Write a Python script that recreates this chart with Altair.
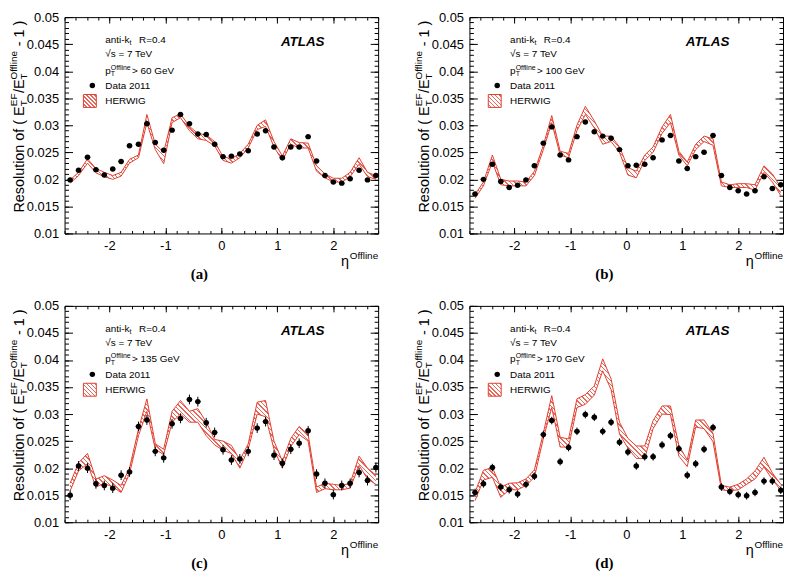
# ATLAS EF jet resolution vs eta, four pT cuts


import pandas as pd
import altair as alt


# bin centres in eta, same for every panel
eta = [-2.70, -2.55, -2.39, -2.24, -2.09, -1.94, -1.79, -1.64, -1.48, -1.33,
       -1.18, -1.03, -0.88, -0.73, -0.57, -0.42, -0.27, -0.12, 0.03, 0.18,
       0.33, 0.48, 0.64, 0.79, 0.94, 1.09, 1.24, 1.39, 1.55, 1.70,
       1.85, 2.00, 2.15, 2.30, 2.46, 2.61, 2.76]

# (a) pT > 60 GeV
a_data = [0.0199, 0.0217, 0.0241, 0.0218, 0.0208, 0.0219, 0.0233, 0.0262, 0.0265, 0.0303,
          0.0268, 0.0254, 0.0291, 0.0320, 0.0303, 0.0284, 0.0283, 0.0265, 0.0242, 0.0243,
          0.0247, 0.0253, 0.0284, 0.0290, 0.0260, 0.0240, 0.0260, 0.0260, 0.0279, 0.0234,
          0.0207, 0.0195, 0.0193, 0.0201, 0.0217, 0.0199, 0.0207]
a_mc_lo = [0.0193, 0.0207, 0.0230, 0.0212, 0.0205, 0.0200, 0.0206, 0.0230, 0.0240, 0.0305,
           0.0255, 0.0229, 0.0305, 0.0314, 0.0290, 0.0275, 0.0272, 0.0262, 0.0235, 0.0230,
           0.0240, 0.0258, 0.0292, 0.0298, 0.0260, 0.0235, 0.0265, 0.0258, 0.0258, 0.0215,
           0.0203, 0.0195, 0.0195, 0.0205, 0.0228, 0.0205, 0.0200]
a_mc_hi = [0.0199, 0.0213, 0.0238, 0.0220, 0.0213, 0.0207, 0.0213, 0.0237, 0.0245, 0.0320,
           0.0265, 0.0250, 0.0314, 0.0321, 0.0298, 0.0285, 0.0282, 0.0270, 0.0242, 0.0238,
           0.0248, 0.0265, 0.0300, 0.0310, 0.0270, 0.0243, 0.0275, 0.0268, 0.0267, 0.0225,
           0.0210, 0.0202, 0.0202, 0.0213, 0.0240, 0.0213, 0.0207]

# (b) pT > 100 GeV
b_data = [0.0173, 0.0200, 0.0228, 0.0196, 0.0185, 0.0189, 0.0199, 0.0225, 0.0267, 0.0297,
          0.0245, 0.0236, 0.0279, 0.0306, 0.0288, 0.0280, 0.0276, 0.0255, 0.0225, 0.0226,
          0.0228, 0.0240, 0.0273, 0.0281, 0.0234, 0.0220, 0.0242, 0.0250, 0.0281, 0.0207,
          0.0185, 0.0179, 0.0173, 0.0179, 0.0205, 0.0183, 0.0190]
b_mc_lo = [0.0165, 0.0188, 0.0232, 0.0190, 0.0188, 0.0188, 0.0188, 0.0207, 0.0255, 0.0305,
           0.0245, 0.0240, 0.0290, 0.0320, 0.0295, 0.0265, 0.0270, 0.0250, 0.0208, 0.0203,
           0.0235, 0.0250, 0.0285, 0.0305, 0.0245, 0.0225, 0.0255, 0.0270, 0.0263, 0.0188,
           0.0185, 0.0185, 0.0185, 0.0180, 0.0213, 0.0195, 0.0170]
b_mc_hi = [0.0172, 0.0195, 0.0245, 0.0200, 0.0197, 0.0197, 0.0195, 0.0215, 0.0263, 0.0318,
           0.0252, 0.0248, 0.0300, 0.0335, 0.0308, 0.0280, 0.0280, 0.0260, 0.0222, 0.0215,
           0.0245, 0.0260, 0.0297, 0.0320, 0.0252, 0.0232, 0.0265, 0.0280, 0.0275, 0.0195,
           0.0190, 0.0192, 0.0192, 0.0190, 0.0225, 0.0210, 0.0185]

# (c) pT > 135 GeV
c_data = [0.0150, 0.0204, 0.0200, 0.0171, 0.0168, 0.0163, 0.0187, 0.0193, 0.0277, 0.0289,
          0.0231, 0.0219, 0.0282, 0.0292, 0.0327, 0.0323, 0.0284, 0.0266, 0.0234, 0.0215,
          0.0217, 0.0231, 0.0274, 0.0286, 0.0224, 0.0209, 0.0235, 0.0246, 0.0269, 0.0189,
          0.0172, 0.0151, 0.0168, 0.0172, 0.0192, 0.0177, 0.0201]
c_mc_lo = [0.0158, 0.0195, 0.0208, 0.0165, 0.0172, 0.0165, 0.0155, 0.0190, 0.0260, 0.0305,
           0.0235, 0.0225, 0.0285, 0.0300, 0.0285, 0.0285, 0.0260, 0.0243, 0.0233, 0.0227,
           0.0200, 0.0235, 0.0300, 0.0295, 0.0235, 0.0200, 0.0240, 0.0262, 0.0250, 0.0155,
           0.0162, 0.0160, 0.0160, 0.0163, 0.0205, 0.0180, 0.0170]
c_mc_hi = [0.0172, 0.0210, 0.0227, 0.0180, 0.0186, 0.0178, 0.0168, 0.0200, 0.0272, 0.0328,
           0.0245, 0.0235, 0.0305, 0.0325, 0.0305, 0.0310, 0.0285, 0.0253, 0.0250, 0.0242,
           0.0215, 0.0245, 0.0322, 0.0325, 0.0250, 0.0213, 0.0255, 0.0277, 0.0262, 0.0165,
           0.0172, 0.0170, 0.0168, 0.0172, 0.0222, 0.0200, 0.0187]

# (d) pT > 170 GeV
d_data = [0.0155, 0.0171, 0.0201, 0.0165, 0.0160, 0.0152, 0.0170, 0.0185, 0.0262, 0.0288,
          0.0212, 0.0238, 0.0268, 0.0299, 0.0294, 0.0268, 0.0285, 0.0248, 0.0230, 0.0204,
          0.0221, 0.0221, 0.0243, 0.0260, 0.0236, 0.0187, 0.0208, 0.0235, 0.0275, 0.0165,
          0.0157, 0.0151, 0.0149, 0.0155, 0.0176, 0.0176, 0.0159]
d_mc_lo = [0.0140, 0.0178, 0.0183, 0.0146, 0.0160, 0.0160, 0.0168, 0.0183, 0.0255, 0.0312,
           0.0239, 0.0239, 0.0312, 0.0318, 0.0335, 0.0380, 0.0345, 0.0263, 0.0237, 0.0218,
           0.0218, 0.0273, 0.0300, 0.0299, 0.0222, 0.0203, 0.0276, 0.0273, 0.0249, 0.0160,
           0.0158, 0.0160, 0.0170, 0.0180, 0.0202, 0.0179, 0.0159]
d_mc_hi = [0.0155, 0.0196, 0.0201, 0.0165, 0.0172, 0.0173, 0.0180, 0.0197, 0.0265, 0.0334,
           0.0257, 0.0254, 0.0328, 0.0336, 0.0352, 0.0402, 0.0365, 0.0285, 0.0255, 0.0241,
           0.0241, 0.0288, 0.0315, 0.0315, 0.0242, 0.0215, 0.0289, 0.0289, 0.0264, 0.0168,
           0.0165, 0.0170, 0.0180, 0.0195, 0.0220, 0.0191, 0.0170]

# tag, pT cut, data, band low, band high, stat error
panels = [
    ("(a)", "60", a_data, a_mc_lo, a_mc_hi, 0.0003),
    ("(b)", "100", b_data, b_mc_lo, b_mc_hi, 0.0003),
    ("(c)", "135", c_data, c_mc_lo, c_mc_hi, 0.0009),
    ("(d)", "170", d_data, d_mc_lo, d_mc_hi, 0.0007),
]

x_major = [-2, -1, 0, 1, 2]
x_minor = [round(-2.8 + 0.2 * i, 1) for i in range(29)]
y_major = [round(0.01 + 0.005 * i, 3) for i in range(9)]
y_minor = [round(0.01 + 0.001 * i, 3) for i in range(41)]

W, H = 316, 218
FONT = "Liberation Sans"
RED = "#e0402f"
HATCH = "#e8675a"
ONE = pd.DataFrame({"k": [0]})

xs = alt.Scale(domain=[-2.8, 2.8], nice=False, zero=False)
ys = alt.Scale(domain=[0.01, 0.05], nice=False, zero=False)


# diagonal hatching made from a hard-stop linear gradient
def hatch(w, h, period):
    k = 0.7 * h / w
    n = max(3, int(1.4 * w * (1 + (h / w) ** 2) / period))
    stops = []
    for i in range(n):
        stops += [
            alt.GradientStop(color=HATCH, offset=i / n),
            alt.GradientStop(color=HATCH, offset=(i + 0.3) / n),
            alt.GradientStop(color="white", offset=(i + 0.3) / n),
            alt.GradientStop(color="white", offset=(i + 1) / n),
        ]
    return alt.LinearGradient(gradient="linear", stops=stops,
                              x1=-0.2, y1=0.5 + k, x2=1.2, y2=0.5 - k)


def tick_axis(orient, offset, values, size):
    return alt.Axis(orient=orient, offset=offset, values=values, tickSize=size,
                    tickColor="black", tickWidth=1, labels=False, domain=False,
                    grid=False, title=None)


def label_axis(orient, values):
    return alt.Axis(orient=orient, values=values, ticks=False, tickSize=0,
                    labelExpr="toString(datum.value)", labelFont=FONT,
                    labelFontSize=13, labelColor="black", labelPadding=6,
                    domain=False, grid=False, title=None)


def txt(s, x, y, size=10, align="left", angle=0, **kw):
    return alt.Chart(ONE).mark_text(
        text=s, fontSize=size, font=kw.pop("font", FONT), align=align,
        baseline="alphabetic", color="black", angle=angle, **kw
    ).encode(x=alt.value(x), y=alt.value(y))


def y_title():
    # pieces of "Resolution of ( E_T^EF / E_T^Offline - 1 )", rotated
    total = 107.2 + 13.3 + 13.7 + 29.4 + 29.8
    y0 = 0.46 * H + total / 2
    parts = [
        ("Resolution of ( E", 0, -41, 14.5),
        ("EF", 107.2, -47.5, 10),
        ("T", 107.2, -38, 10),
        ("/E", 120.5, -41, 14.5),
        ("Offline", 134.2, -47.5, 10),
        ("T", 134.2, -38, 10),
        ("- 1 )", 167.6, -41, 14.5),
    ]
    return [txt(s, xb, y0 - along, size=sz, angle=270) for s, along, xb, sz in parts]


def make_panel(tag, cut, res, lo, hi, err):
    df = pd.DataFrame({"eta": eta, "res": res, "lo": lo, "hi": hi})
    df["elo"] = df["res"] - err
    df["ehi"] = df["res"] + err
    df["xlo"] = df["eta"] - 0.05
    df["xhi"] = df["eta"] + 0.05

    band_w = (eta[-1] - eta[0]) / 5.6 * W
    band_h = (max(hi) - min(lo)) / 0.04 * H
    base = alt.Chart(df)

    band = base.mark_area(fill=hatch(band_w, band_h, 4.5), opacity=1).encode(
        x=alt.X("eta:Q", scale=xs, axis=label_axis("bottom", x_major)),
        y=alt.Y("lo:Q", scale=ys, axis=label_axis("left", y_major)),
        y2="hi:Q",
    )
    upper = base.mark_line(color=RED, strokeWidth=1).encode(
        x=alt.X("eta:Q", scale=xs, axis=tick_axis("top", -H, x_major, 6)),
        y=alt.Y("hi:Q", scale=ys, axis=tick_axis("right", -W, y_major, 8)),
    )
    lower = base.mark_line(color=RED, strokeWidth=1).encode(
        x=alt.X("eta:Q", scale=xs, axis=tick_axis("top", -H, x_minor, 3)),
        y=alt.Y("lo:Q", scale=ys, axis=tick_axis("right", -W, y_minor, 4)),
    )
    verr = base.mark_rule(color="black", strokeWidth=1).encode(
        x=alt.X("eta:Q", scale=xs, axis=tick_axis("bottom", -H, x_major, 6)),
        y=alt.Y("elo:Q", scale=ys, axis=tick_axis("left", -W, y_major, 8)),
        y2="ehi:Q",
    )
    herr = base.mark_rule(color="black", strokeWidth=1).encode(
        x=alt.X("xlo:Q", scale=xs, axis=tick_axis("bottom", -H, x_minor, 3)),
        x2="xhi:Q",
        y=alt.Y("res:Q", scale=ys, axis=tick_axis("left", -W, y_minor, 4)),
    )
    pts = base.mark_circle(size=30, color="black", opacity=1).encode(
        x=alt.X("eta:Q", scale=xs, axis=None),
        y=alt.Y("res:Q", scale=ys, axis=None),
    )

    # legend and labels
    key_dot = alt.Chart(ONE).mark_circle(size=30, color="black", opacity=1).encode(
        x=alt.value(28), y=alt.value(69)
    )
    key_box = alt.Chart(ONE).mark_rect(fill=hatch(13, 13, 4), stroke=RED, strokeWidth=1).encode(
        x=alt.value(19), x2=alt.value(32), y=alt.value(78), y2=alt.value(91)
    )
    texts = [
        txt("anti-k", 41, 26),
        txt("t", 65.5, 28.5, size=7),
        txt("R=0.4", 75, 26),
        txt("\u221as = 7 TeV", 41, 40),
        txt("p", 41, 57),
        txt("T", 46.6, 59.5, size=7),
        txt("Offline", 46.6, 53, size=7),
        txt("> " + cut + " GeV", 68, 57),
        txt("Data 2011", 41, 72.5),
        txt("HERWIG", 41, 88),
        txt("ATLAS", 218, 29, size=13.5, fontWeight="bold", fontStyle="italic"),
        txt("Offline", W, H + 26, size=10, align="right"),
        txt("\u03b7", W - 29.4, H + 33, size=14.5, align="right"),
        txt(tag, 0.43 * W, H + 46, size=15, align="center",
            font="Liberation Serif", fontWeight="bold"),
    ]

    return alt.layer(
        band, upper, lower, verr, herr, pts, key_dot, key_box, *texts, *y_title()
    ).resolve_axis(x="independent", y="independent").properties(width=W, height=H)


charts = [make_panel(*p) for p in panels]

chart = alt.vconcat(
    alt.hconcat(charts[0], charts[1], spacing=33),
    alt.hconcat(charts[2], charts[3], spacing=33),
    spacing=16,
).properties(
    padding=0
).configure_view(
    stroke="black", strokeWidth=1
)

chart.save("out.html", embed_options={"renderer": "svg", "actions": False})
